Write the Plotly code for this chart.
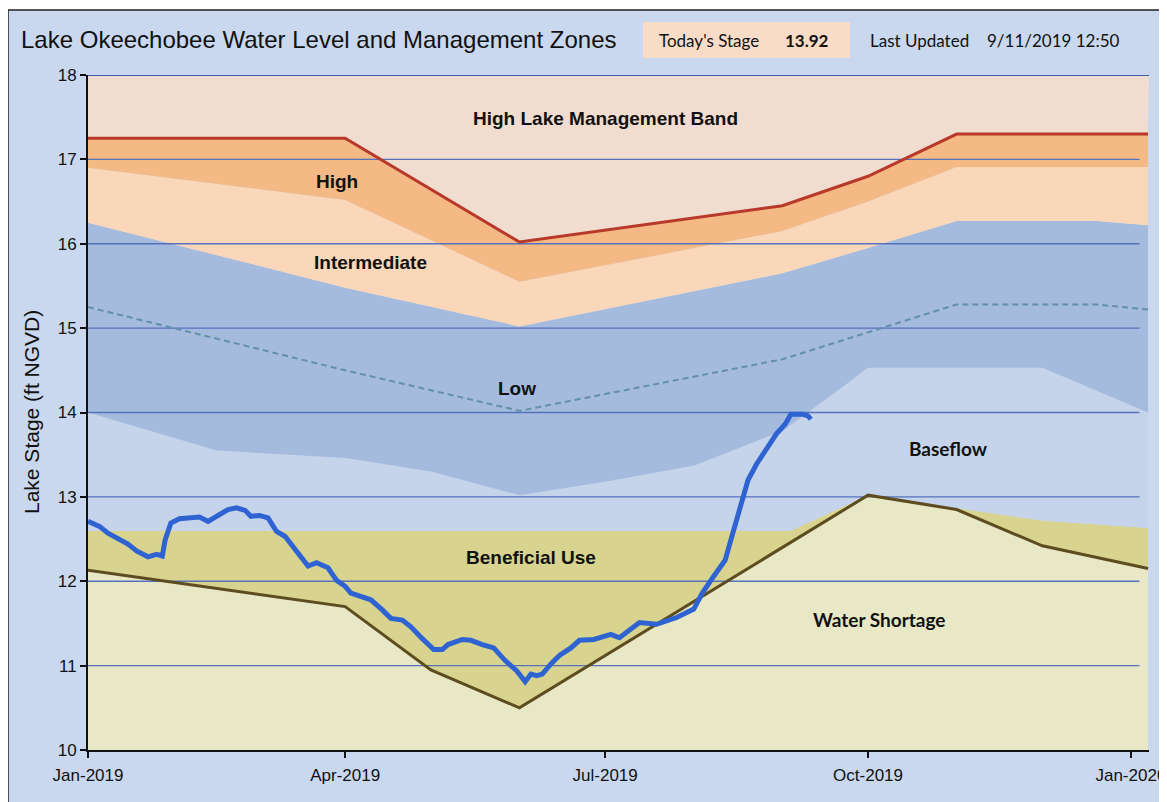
import plotly.graph_objects as go

# The page body adds an 8 px margin, so the figure is shifted by OFF pixels.
OFF = 8
W, H = 1167 - OFF, 802 - OFF

# ---------------- data ----------------
stage_dates = [
    "2019-01-01", "2019-01-05", "2019-01-08", "2019-01-12", "2019-01-15", "2019-01-18",
    "2019-01-22", "2019-01-25", "2019-01-27", "2019-01-28", "2019-01-30", "2019-02-02",
    "2019-02-06", "2019-02-09", "2019-02-12", "2019-02-16", "2019-02-19", "2019-02-22",
    "2019-02-25", "2019-02-27", "2019-03-02", "2019-03-05", "2019-03-08", "2019-03-11",
    "2019-03-15", "2019-03-19", "2019-03-22", "2019-03-26", "2019-03-29", "2019-04-01",
    "2019-04-03", "2019-04-07", "2019-04-10", "2019-04-14", "2019-04-17", "2019-04-21",
    "2019-04-24", "2019-04-28", "2019-05-02", "2019-05-05", "2019-05-07", "2019-05-12",
    "2019-05-15", "2019-05-19", "2019-05-23", "2019-05-27", "2019-05-31", "2019-06-03",
    "2019-06-05", "2019-06-07", "2019-06-09", "2019-06-12", "2019-06-15", "2019-06-19",
    "2019-06-22", "2019-06-27", "2019-07-01", "2019-07-03", "2019-07-06", "2019-07-13",
    "2019-07-19", "2019-07-26", "2019-08-01", "2019-08-04", "2019-08-08", "2019-08-12",
    "2019-08-14", "2019-08-16", "2019-08-18", "2019-08-20", "2019-08-23", "2019-08-27",
    "2019-08-30", "2019-09-02", "2019-09-04", "2019-09-08", "2019-09-10", "2019-09-11",
]
stage_values = [
    12.71, 12.65, 12.57, 12.49, 12.44, 12.36,
    12.29, 12.32, 12.30, 12.49, 12.69, 12.74,
    12.75, 12.76, 12.71, 12.80, 12.85, 12.87,
    12.84, 12.77, 12.78, 12.75, 12.59, 12.53,
    12.35, 12.18, 12.22, 12.16, 12.01, 11.94,
    11.86, 11.82, 11.78, 11.66, 11.56, 11.54,
    11.46, 11.32, 11.19, 11.19, 11.25, 11.31,
    11.30, 11.25, 11.21, 11.06, 10.94, 10.81,
    10.90, 10.88, 10.90, 11.02, 11.12, 11.21,
    11.30, 11.31, 11.35, 11.37, 11.33, 11.51,
    11.49, 11.57, 11.67, 11.86, 12.06, 12.25,
    12.49, 12.73, 13.00, 13.20, 13.39, 13.59,
    13.75, 13.86, 13.98, 13.98, 13.96, 13.92,
]

# Water Shortage line (top of Water Shortage zone)
shortage_dates = ["2019-01-01", "2019-04-01", "2019-05-01", "2019-06-01",
                  "2019-10-01", "2019-11-01", "2019-12-01", "2020-01-07"]
shortage_values = [12.13, 11.70, 10.95, 10.50, 13.02, 12.85, 12.42, 12.15]

# Top of Beneficial Use zone
beneficial_dates = ["2019-01-01", "2019-09-04", "2019-10-01", "2019-12-01", "2020-01-07"]
beneficial_values = [12.60, 12.60, 13.02, 12.72, 12.63]

# Top of Baseflow zone (bottom of Low)
baseflow_dates = ["2019-01-01", "2019-02-15", "2019-04-01", "2019-05-01", "2019-06-01",
                  "2019-07-01", "2019-08-01", "2019-09-01", "2019-09-20", "2019-10-01",
                  "2019-12-01", "2020-01-07"]
baseflow_values = [14.00, 13.55, 13.46, 13.30, 13.02,
                   13.18, 13.37, 13.78, 14.25, 14.53,
                   14.53, 14.00]

# Top of Low zone
low_dates = ["2019-01-01", "2019-04-01", "2019-06-01", "2019-09-01",
             "2019-10-01", "2019-11-01", "2019-12-20", "2020-01-07"]
low_values = [16.25, 15.48, 15.02, 15.65, 15.95, 16.27, 16.27, 16.22]

# Dashed line inside the Low zone
lowmid_dates = ["2019-01-01", "2019-04-01", "2019-06-01", "2019-09-01",
                "2019-10-01", "2019-11-01", "2019-12-20", "2020-01-07"]
lowmid_values = [15.25, 14.50, 14.02, 14.63, 14.95, 15.28, 15.28, 15.22]

# Top of Intermediate zone
intermediate_dates = ["2019-01-01", "2019-04-01", "2019-06-01", "2019-09-01",
                      "2019-10-01", "2019-11-01", "2020-01-07"]
intermediate_values = [16.90, 16.52, 15.55, 16.15, 16.50, 16.91, 16.91]

# Top of High zone (bottom of High Lake Management Band)
high_dates = ["2019-01-01", "2019-04-01", "2019-06-01", "2019-09-01",
              "2019-10-01", "2019-11-01", "2020-01-07"]
high_values = [17.25, 17.25, 16.02, 16.45, 16.80, 17.30, 17.30]

x_range = ["2019-01-01", "2020-01-07 08:00"]
y_range = [10, 18]
y_ticks = [10, 11, 12, 13, 14, 15, 16, 17, 18]
grid_values = [11, 12, 13, 14, 15, 16, 17]
x_tickvals = ["2019-01-01", "2019-04-01", "2019-07-01", "2019-10-01", "2020-01-01"]
x_ticktext = ["Jan-2019", "Apr-2019", "Jul-2019", "Oct-2019", "Jan-2020"]

# ---------------- colours ----------------
C_SHORT = "#e9e8c6"
C_BENEF = "#d8d490"
C_BASE = "#c6d4eb"
C_LOW = "#a5bbdd"
C_INTER = "#fad7b9"
C_HIGH = "#f5b986"
C_BAND = "#f1ddcf"

fig = go.Figure()

def zone(xs, ys, fill, color):
    fig.add_trace(go.Scatter(x=xs, y=ys, mode="lines", line=dict(width=0),
                             fill=fill, fillcolor=color, hoverinfo="skip",
                             showlegend=False))

zone(shortage_dates, shortage_values, "tozeroy", C_SHORT)
zone(beneficial_dates, beneficial_values, "tonexty", C_BENEF)
zone(baseflow_dates, baseflow_values, "tonexty", C_BASE)
zone(low_dates, low_values, "tonexty", C_LOW)
zone(intermediate_dates, intermediate_values, "tonexty", C_INTER)
zone(high_dates, high_values, "tonexty", C_HIGH)
zone([x_range[0], x_range[1]], [y_range[1], y_range[1]], "tonexty", C_BAND)

# gridlines (drawn over the zone fills)
gx, gy = [], []
for v in grid_values:
    gx += ["2019-01-01", "2020-01-04", None]
    gy += [v, v, None]
fig.add_trace(go.Scatter(x=gx, y=gy, mode="lines",
                         line=dict(color="#5671bb", width=1.3),
                         hoverinfo="skip", showlegend=False))
# top frame line
fig.add_trace(go.Scatter(x=[x_range[0], x_range[1]], y=[y_range[1], y_range[1]], mode="lines",
                         line=dict(color="#3f5fb2", width=2),
                         hoverinfo="skip", showlegend=False))

fig.add_trace(go.Scatter(x=lowmid_dates, y=lowmid_values, mode="lines",
                         line=dict(color="#6390a8", width=2, dash="6px,4px"),
                         hoverinfo="skip", showlegend=False))
fig.add_trace(go.Scatter(x=high_dates, y=high_values, mode="lines",
                         line=dict(color="#b8392a", width=3),
                         hoverinfo="skip", showlegend=False))
fig.add_trace(go.Scatter(x=shortage_dates, y=shortage_values, mode="lines",
                         line=dict(color="#5c4c20", width=3),
                         hoverinfo="skip", showlegend=False))
fig.add_trace(go.Scatter(x=stage_dates, y=stage_values, mode="lines",
                         line=dict(color="#2f63d2", width=5),
                         name="Lake Stage", showlegend=False))

# ---------------- layout ----------------
def px(xp):
    return (xp - OFF) / W

def py(yp):
    return 1 - (yp - OFF) / H

FONT = "Liberation Sans, Arial, sans-serif"
FONT2 = "Lato, Open Sans, sans-serif"

labels = [
    ("High Lake Management Band", "2019-07-01", 17.49, FONT),
    ("High", "2019-03-29", 16.74, FONT),
    ("Intermediate", "2019-04-10", 15.78, FONT),
    ("Low", "2019-05-31", 14.29, FONT),
    ("Baseflow", "2019-10-29", 13.57, FONT2),
    ("Beneficial Use", "2019-06-05", 12.28, FONT),
    ("Water Shortage", "2019-10-05", 11.55, FONT2),
]
annotations = []
for text, x, y, f in labels:
    annotations.append(dict(text="<b>%s</b>" % text, x=x, y=y, xref="x", yref="y",
                            showarrow=False, font=dict(family=f, size=19, color="#111111")))

annotations += [
    dict(text="Lake Okeechobee Water Level and Management Zones", x=px(19), y=py(39),
         xref="paper", yref="paper", xanchor="left", yanchor="middle", showarrow=False,
         font=dict(family=FONT, size=24, color="#111111")),
    dict(text="Today's Stage", x=px(657), y=py(41), xref="paper", yref="paper",
         xanchor="left", yanchor="middle", showarrow=False,
         font=dict(family=FONT2, size=17, color="#111111")),
    dict(text="<b>%.2f</b>" % stage_values[-1], x=px(783), y=py(41), xref="paper", yref="paper",
         xanchor="left", yanchor="middle", showarrow=False,
         font=dict(family=FONT2, size=17, color="#111111")),
    dict(text="Last Updated", x=px(868), y=py(40), xref="paper", yref="paper",
         xanchor="left", yanchor="middle", showarrow=False,
         font=dict(family=FONT2, size=17, color="#111111")),
    dict(text="9/11/2019 12:50", x=px(985), y=py(40), xref="paper", yref="paper",
         xanchor="left", yanchor="middle", showarrow=False,
         font=dict(family=FONT2, size=17, color="#111111")),
    dict(text="Lake Stage (ft NGVD)", x=px(31), y=py(412), xref="paper", yref="paper",
         xanchor="center", yanchor="middle", textangle=-90, showarrow=False,
         font=dict(family=FONT, size=21, color="#111111")),
]

shapes = [
    dict(type="rect", xref="paper", yref="paper", x0=0, x1=1.02, y0=-0.02, y1=py(10),
         fillcolor="#c9d8ee", line=dict(color="#222222", width=1.5), layer="below"),
    dict(type="rect", xref="paper", yref="paper", x0=px(643), x1=px(850), y0=py(58), y1=py(22),
         fillcolor="#f9dcc7", line=dict(width=0), layer="below"),
]

fig.update_layout(
    width=W, height=H, autosize=False,
    margin=dict(l=0, r=0, t=0, b=0, pad=0),
    paper_bgcolor="white",
    plot_bgcolor="rgba(0,0,0,0)",
    showlegend=False,
    annotations=annotations,
    shapes=shapes,
    xaxis=dict(
        type="date", range=x_range, domain=[px(88), px(1149)],
        tickvals=x_tickvals, ticktext=x_ticktext,
        showgrid=False, zeroline=False, automargin=False,
        showline=True, linecolor="#111111", linewidth=2,
        ticks="outside", ticklen=6, tickwidth=2, tickcolor="#111111",
        ticklabelstandoff=3,
        tickfont=dict(family=FONT, size=17, color="#111111"),
    ),
    yaxis=dict(
        range=y_range, domain=[py(750), py(75)],
        tickvals=y_ticks, ticktext=[str(v) for v in y_ticks],
        showgrid=False, zeroline=False, automargin=False,
        showline=True, linecolor="#111111", linewidth=2,
        ticks="outside", ticklen=6, tickwidth=2, tickcolor="#111111",
        tickfont=dict(family=FONT, size=17, color="#111111"),
    ),
)

fig.write_html("out.html")
